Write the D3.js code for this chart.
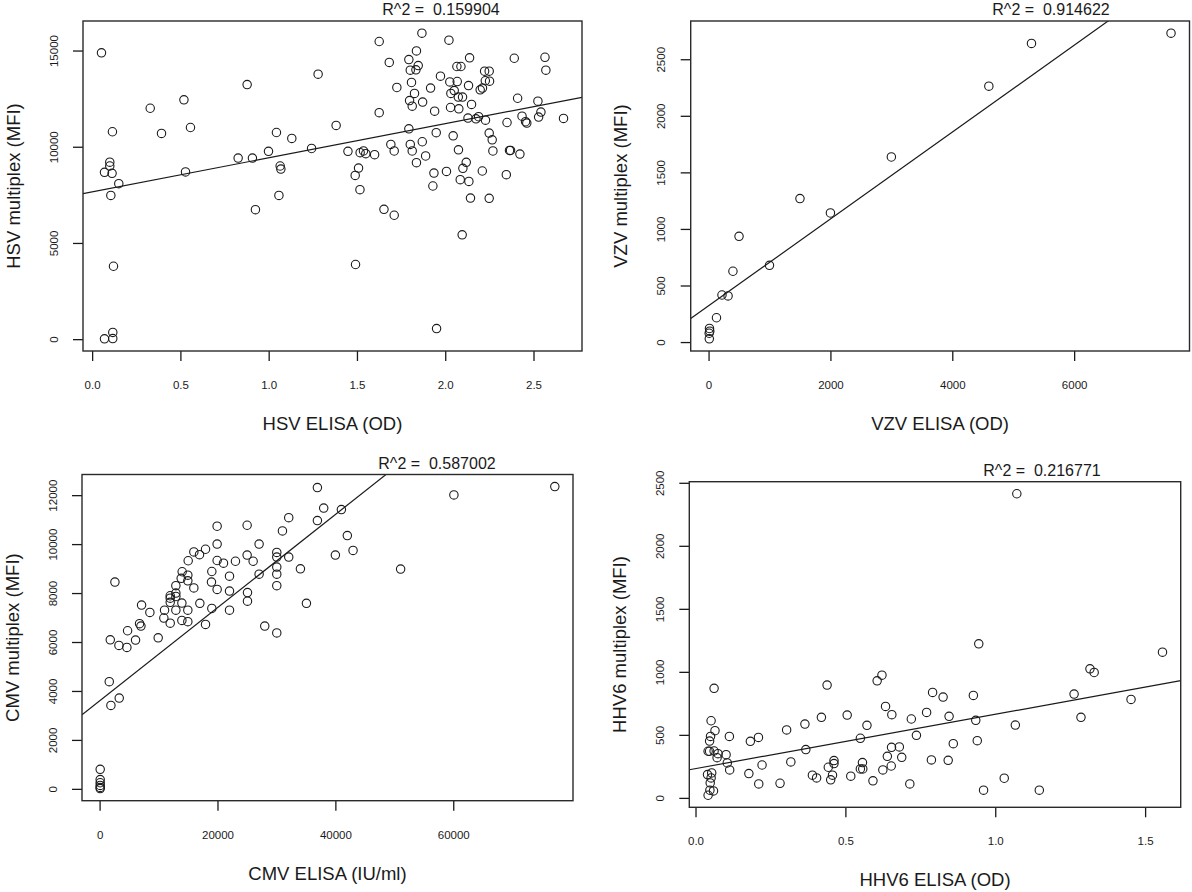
<!DOCTYPE html>
<html>
<head>
<meta charset="utf-8">
<script src="https://cdn.jsdelivr.net/npm/d3@7"></script>
<style>
body { margin: 0; background: #fff; }
svg { display: block; font-family: "Liberation Sans", Arial, Helvetica, sans-serif; }
</style>
</head>
<body>
<script>
// ---- HSV (top left)
var hsvElisa = [0.053,0.115,0.10,0.10,0.07,0.113,0.151,0.106,0.121,0.117,0.07,0.117,
  0.329,0.393,0.52,0.557,0.529,0.878,0.827,0.908,0.925,0.999,1.044,1.065,1.069,1.058,
  1.131,1.243,1.28,1.382,1.626,1.683,1.626,1.449,1.518,1.537,1.55,1.60,1.509,1.49,
  1.517,1.492,1.653,1.711,1.692,1.711,1.726,1.794,1.837,1.868,1.847,1.802,1.834,1.809,
  1.826,1.798,1.813,1.872,1.794,1.802,1.813,1.87,1.889,1.837,1.917,1.94,1.949,1.936,
  1.93,1.951,1.973,2.021,2.026,2.068,2.032,2.051,2.074,2.098,2.03,2.077,2.066,2.089,
  2.138,2.132,2.149,2.129,2.045,2.075,2.119,2.10,2.007,2.085,2.134,2.143,2.096,2.174,
  2.189,2.228,2.198,2.211,2.227,2.251,2.223,2.249,2.249,2.266,2.27,2.21,2.249,2.35,
  2.346,2.364,2.37,2.423,2.41,2.391,2.435,2.455,2.462,2.525,2.542,2.529,2.565,2.57,2.67];
var hsvMultiplex = [14880,10780,9200,9000,8670,8620,8080,7470,3790,350,20,30,
  12000,10690,12440,11000,8690,13230,9410,9410,6730,9760,10740,9000,8840,7470,
  10430,9910,13770,11110,15470,14380,11770,9760,9690,9780,9640,9590,8890,8510,
  7770,3880,6750,6440,10120,9780,13080,14530,14980,15900,14220,13980,14000,13340,
  12770,12400,12110,12320,10930,10120,9780,10260,9520,9170,13050,11850,10730,8630,
  7960,550,13670,15540,13370,13390,12770,12920,12580,12580,12040,11970,14170,14170,
  14620,13180,12200,11490,10570,9840,9190,8880,8720,8290,8200,7330,5420,11450,
  11560,11380,12960,13050,13430,13410,13930,13930,10710,10360,9780,8740,7320,11260,
  8550,9810,9810,9620,12520,14600,11590,11300,11230,12370,11800,11540,14650,13980,11470];
var hsvXTicks = [0, 0.5, 1, 1.5, 2, 2.5];
var hsvYTicks = [0, 5000, 10000, 15000];
var hsvFit = [7652, 1773];          // intercept, slope of the drawn line
var hsvR2 = "R^2 =  0.159904";

// ---- VZV (top right)
var vzvElisa = [7590,5300,4600,3000,1500,2000,1000,500,400,220,320,130,15,20,10,12];
var vzvMultiplex = [2730,2640,2262,1636,1268,1141,678,935,626,416,408,215,120,96,78,29];
var vzvXTicks = [0, 2000, 4000, 6000];
var vzvYTicks = [0, 500, 1000, 1500, 2000, 2500];
var vzvFit = [320, 0.384];
var vzvR2 = "R^2 =  0.914622";

// ---- CMV (bottom left)
var cmvElisa = [100,100,100,100,100,100,1640,1920,3330,2600,1810,3280,4630,4750,6100,
  6780,7010,7120,8530,9940,10900,11020,11980,11980,11980,11980,12940,12940,12940,12940,
  13960,13960,14010,13840,14970,14970,14970,14970,15030,15990,15990,16950,17970,17010,
  17970,19040,18980,19040,19940,19940,19940,19940,21020,22040,22040,22040,23050,25030,
  25030,25090,25090,26050,27060,27060,28020,30060,30060,30060,30060,30060,30060,31020,
  32090,32090,34070,35090,36950,36950,38020,41020,42030,40000,43000,51070,60110,77230];
var cmvMultiplex = [800,380,250,140,60,10,4380,3410,3710,8450,6090,5860,5780,6460,6080,
  6750,6650,7510,7210,6170,6980,7300,6770,7620,7790,7890,7860,8000,8300,7300,
  7590,6880,8870,8600,8730,8500,7300,6830,9320,8210,9680,9570,9790,7580,
  6720,8880,8450,7370,10730,10000,9330,8150,9220,8690,8080,7300,9300,10770,
  9550,8020,7670,9300,10000,8770,6650,9660,9470,9060,8770,8300,6370,10540,
  11080,9470,8990,7580,12310,10960,11470,11410,10350,9550,9740,8980,12010,12350];
var cmvXTicks = [0, 20000, 40000, 60000];
var cmvYTicks = [0, 2000, 4000, 6000, 8000, 10000, 12000];
var cmvFit = [3592, 0.1904];
var cmvR2 = "R^2 =  0.587002";

// ---- HHV6 (bottom right)
var hhv6Elisa = [0.042,0.048,0.06,0.049,0.052,0.040,0.054,0.042,0.047,0.062,0.047,0.05,
  0.052,0.062,0.065,0.075,0.072,0.102,0.106,0.114,0.113,0.178,0.183,0.21,0.211,0.222,
  0.282,0.304,0.318,0.365,0.368,0.39,0.404,0.42,0.439,0.443,0.457,0.451,0.462,0.462,
  0.506,0.518,0.55,0.55,0.557,0.558,0.572,0.592,0.606,0.622,0.634,0.655,0.654,0.625,
  0.64,0.653,0.68,0.688,0.72,0.715,0.737,0.771,0.791,0.787,0.826,0.846,0.843,0.86,
  0.927,0.935,0.94,0.945,0.961,1.03,1.067,1.072,1.147,1.263,1.286,1.316,1.33,1.453,1.558];
var hhv6Multiplex = [21,61,55,119,158,185,198,370,370,372,451,488,
  612,869,533,351,319,343,277,222,488,193,449,480,111,261,
  116,539,285,586,383,180,158,639,895,243,180,143,296,272,
  657,172,473,230,280,230,576,135,929,974,726,660,401,222,
  330,253,404,322,626,111,496,678,837,301,800,647,298,430,
  813,615,454,1222,61,156,578,2413,61,824,639,1024,995,781,1156];
var hhv6XTicks = [0, 0.5, 1, 1.5];
var hhv6YTicks = [0, 500, 1000, 1500, 2000, 2500];
var hhv6Fit = [232, 431];
var hhv6R2 = "R^2 =  0.216771";

var svgWidth = 1192, svgHeight = 892;
var svg = d3.select("body").append("svg")
    .attr("width", svgWidth)
    .attr("height", svgHeight);

var ink = "#1a1a1a";

// R style axis range: data extent plus 4% on each side
function rPad(ext) {
    var d = (ext[1] - ext[0]) * 0.04;
    return [ext[0] - d, ext[1] + d];
}

var panels = [
    {id: "p1", xs: hsvElisa, ys: hsvMultiplex, xTicks: hsvXTicks, yTicks: hsvYTicks, xFmt: d3.format(".1f"),
     fit: hsvFit, r2: hsvR2, xLab: "HSV ELISA (OD)", yLab: "HSV multiplex (MFI)",
     box: {x0: 83, x1: 582, y0: 21, y1: 351}, titleX: 441, titleY: 15},
    {id: "p2", xs: vzvElisa, ys: vzvMultiplex, xTicks: vzvXTicks, yTicks: vzvYTicks, xFmt: d3.format("d"),
     fit: vzvFit, r2: vzvR2, xLab: "VZV ELISA (OD)", yLab: "VZV multiplex (MFI)",
     box: {x0: 690.7, x1: 1189.5, y0: 21, y1: 351}, titleX: 1051, titleY: 15},
    {id: "p3", xs: cmvElisa, ys: cmvMultiplex, xTicks: cmvXTicks, yTicks: cmvYTicks, xFmt: d3.format("d"),
     fit: cmvFit, r2: cmvR2, xLab: "CMV ELISA (IU/ml)", yLab: "CMV multiplex (MFI)",
     box: {x0: 82, x1: 573, y0: 474.5, y1: 800.7}, titleX: 437, titleY: 469},
    {id: "p4", xs: hhv6Elisa, ys: hhv6Multiplex, xTicks: hhv6XTicks, yTicks: hhv6YTicks, xFmt: d3.format(".1f"),
     fit: hhv6Fit, r2: hhv6R2, xLab: "HHV6 ELISA (OD)", yLab: "HHV6 multiplex (MFI)",
     box: {x0: 689.3, x1: 1180.7, y0: 481.7, y1: 807.3}, titleX: 1042, titleY: 476}
];

panels.forEach(drawPanel);

function drawPanel(p) {
    var b = p.box;
    var g = svg.append("g");

    var x = d3.scaleLinear().domain(rPad(d3.extent(p.xs))).range([b.x0, b.x1]);
    var y = d3.scaleLinear().domain(rPad(d3.extent(p.ys))).range([b.y1, b.y0]);

    g.append("clipPath").attr("id", "clip-" + p.id)
        .append("rect")
        .attr("x", b.x0).attr("y", b.y0)
        .attr("width", b.x1 - b.x0).attr("height", b.y1 - b.y0);

    // x axis
    g.append("g")
        .attr("transform", "translate(0," + b.y1 + ")")
        .call(d3.axisBottom(x).tickValues(p.xTicks).tickFormat(p.xFmt).tickSize(10).tickSizeOuter(0))
        .call(function (a) {
            a.select(".domain").remove();
            a.attr("font-family", null).attr("font-size", null).style("color", ink);
            a.selectAll("line").attr("stroke-width", 1.3);
            a.selectAll("text").attr("y", 34).attr("dy", "0.35em").style("font-size", "11.5px");
        });

    // y axis, labels parallel to the axis
    g.append("g")
        .attr("transform", "translate(" + b.x0 + ",0)")
        .call(d3.axisLeft(y).tickValues(p.yTicks).tickFormat(d3.format("d")).tickSize(10).tickSizeOuter(0))
        .call(function (a) {
            a.select(".domain").remove();
            a.attr("font-family", null).attr("font-size", null).style("color", ink);
            a.selectAll("line").attr("stroke-width", 1.3);
            a.selectAll("text")
                .attr("x", null)
                .attr("dy", "0.35em")
                .attr("text-anchor", "middle")
                .attr("transform", "translate(-29.5,0) rotate(-90)")
                .style("font-size", "11.5px");
        });

    // regression line
    var xd = x.domain();
    g.append("line")
        .attr("clip-path", "url(#clip-" + p.id + ")")
        .attr("x1", x(xd[0])).attr("y1", y(p.fit[0] + p.fit[1] * xd[0]))
        .attr("x2", x(xd[1])).attr("y2", y(p.fit[0] + p.fit[1] * xd[1]))
        .attr("stroke", ink)
        .attr("stroke-width", 1.2);

    // points
    g.append("g").selectAll("circle")
        .data(p.xs)
        .enter()
        .append("circle")
        .attr("cx", function (d) { return x(d); })
        .attr("cy", function (d, i) { return y(p.ys[i]); })
        .attr("r", 4.2)
        .attr("fill", "none")
        .attr("stroke", ink)
        .attr("stroke-width", 1.1);

    // frame
    g.append("rect")
        .attr("x", b.x0).attr("y", b.y0)
        .attr("width", b.x1 - b.x0).attr("height", b.y1 - b.y0)
        .attr("fill", "none")
        .attr("stroke", "#2a2a2a")
        .attr("stroke-width", 1.4);

    g.append("text")
        .attr("x", p.titleX).attr("y", p.titleY)
        .attr("text-anchor", "middle")
        .attr("fill", ink)
        .style("font-size", "16px")
        .style("white-space", "pre")
        .text(p.r2);

    g.append("text")
        .attr("x", (b.x0 + b.x1) / 2).attr("y", b.y1 + 79)
        .attr("text-anchor", "middle")
        .attr("fill", ink)
        .style("font-size", "18.5px")
        .text(p.xLab);

    g.append("text")
        .attr("transform", "translate(" + (b.x0 - 63.5) + "," + ((b.y0 + b.y1) / 2) + ") rotate(-90)")
        .attr("text-anchor", "middle")
        .attr("fill", ink)
        .style("font-size", "18.5px")
        .text(p.yLab);
}
</script>
</body>
</html>
